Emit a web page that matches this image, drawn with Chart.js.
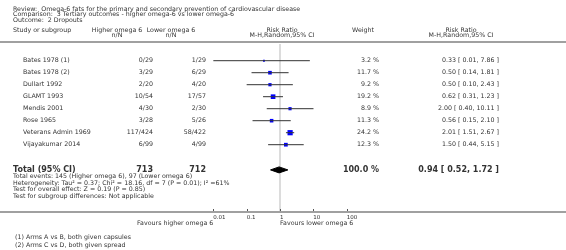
<!DOCTYPE html>
<html>
<head>
<meta charset="utf-8">
<script src="https://cdn.jsdelivr.net/npm/chart.js@4"></script>
<style>
  html, body { margin: 0; padding: 0; background: #fff; }
  #forest__wrap { position: relative; width: 566px; height: 250px; }
</style>
</head>
<body>
<div id="forest__wrap"><canvas id="forest__graph"></canvas></div>
<script>
// study data
const studies = ["Bates 1978 (1)", "Bates 1978 (2)", "Dullart 1992", "GLAMT 1993", "Mendis 2001", "Rose 1965", "Veterans Admin 1969", "Vijayakumar 2014"];
const higherEvents = [0, 3, 2, 10, 4, 3, 117, 6];
const higherTotal = [29, 29, 20, 54, 30, 28, 424, 99];
const lowerEvents = [1, 6, 4, 17, 2, 5, 58, 4];
const lowerTotal = [29, 29, 20, 57, 30, 26, 422, 99];
const riskRatio = [0.33, 0.5, 0.5, 0.62, 2.0, 0.56, 2.01, 1.5];
const ciLow = [0.01, 0.14, 0.1, 0.31, 0.4, 0.15, 1.51, 0.44];
const ciHigh = [7.86, 1.81, 2.43, 1.23, 10.11, 2.1, 2.67, 5.15];
const weights = [3.2, 11.7, 9.2, 19.2, 8.9, 11.3, 24.2, 12.3];

const totalHigher = 713;
const totalLower = 712;
const totalRR = [0.94, 0.52, 1.72]; // estimate, low, high
const totalWeight = 100.0;

const tickValues = [0.01, 0.1, 1, 10, 100];
const tickLabels = ["0.01", "0.1", "1", "10", "100"];

const titleLines = [
  "Review:  Omega-6 fats for the primary and secondary prevention of cardiovascular disease",
  "Comparison:  3 Tertiary outcomes - higher omega-6 vs lower omega-6",
  "Outcome:  2 Dropouts",
];
const footerLines = [
  "Total events: 145 (Higher omega 6), 97 (Lower omega 6)",
  "Heterogeneity: Tau\u00b2 = 0.37; Chi\u00b2 = 18.16, df = 7 (P = 0.01); I\u00b2 =61%",
  "Test for overall effect: Z = 0.19 (P = 0.85)",
  "Test for subgroup differences: Not applicable",
];
const footnotes = ["(1) Arms A vs B, both given capsules", "(2) Arms C vs D, both given spread"];

const totalRow = 9.1; // row slot of the pooled estimate
const FONT = "'DejaVu Sans', Verdana, sans-serif";
const TEXT = "#333";

const fmt = (v) => v.toFixed(2);
const ciText = (e, l, h) => fmt(e) + " [ " + fmt(l) + ", " + fmt(h) + " ]";

const tablePlugin = {
  id: "tablePlugin",
  beforeDatasetsDraw(chart) {
    const { ctx } = chart;
    const x = chart.scales.x;
    const bottom = chart.chartArea.bottom;
    ctx.save();
    // line of no effect
    ctx.strokeStyle = "#dcdcdc";
    ctx.lineWidth = 2;
    ctx.beginPath();
    ctx.moveTo(x.getPixelForValue(1), 44);
    ctx.lineTo(x.getPixelForValue(1), bottom);
    ctx.stroke();
    // header rule and axis rule
    ctx.strokeStyle = "#a0a0a0";
    ctx.lineWidth = 2;
    ctx.beginPath();
    ctx.moveTo(0, 42);
    ctx.lineTo(566, 42);
    ctx.moveTo(0, bottom);
    ctx.lineTo(566, bottom);
    ctx.stroke();
    // tick marks
    ctx.strokeStyle = "#555";
    ctx.lineWidth = 1;
    ctx.beginPath();
    tickValues.forEach((t) => {
      const px = Math.round(x.getPixelForValue(t)) + 0.5;
      ctx.moveTo(px, bottom - 3);
      ctx.lineTo(px, bottom - 1);
    });
    ctx.stroke();
    ctx.restore();
  },
  afterDraw(chart) {
    const { ctx } = chart;
    const x = chart.scales.x;
    const y = chart.scales.y;
    const bottom = chart.chartArea.bottom;
    const put = (s, px, py, align, bold, size) => {
      ctx.font = (bold ? "bold " : "") + (size || 6.3) + "px " + FONT;
      ctx.textAlign = align || "left";
      ctx.fillText(s, px, py);
    };
    ctx.save();
    ctx.fillStyle = TEXT;
    ctx.textBaseline = "middle";

    titleLines.forEach((s, i) => put(s, 13, 9 + i * 5.5));

    put("Study or subgroup", 13, 30);
    put("Higher omega 6", 117, 30, "center");
    put("n/N", 117, 35.5, "center");
    put("Lower omega 6", 171, 30, "center");
    put("n/N", 171, 35.5, "center");
    put("Risk Ratio", 282, 30, "center");
    put("M-H,Random,95% CI", 282, 35.5, "center");
    put("Weight", 363, 30, "center");
    put("Risk Ratio", 461, 30, "center");
    put("M-H,Random,95% CI", 461, 35.5, "center");

    studies.forEach((name, i) => {
      const py = y.getPixelForValue(i);
      put(name, 23, py);
      put(higherEvents[i] + "/" + higherTotal[i], 153, py, "right");
      put(lowerEvents[i] + "/" + lowerTotal[i], 206, py, "right");
      put(weights[i].toFixed(1) + " %", 379, py, "right");
      put(ciText(riskRatio[i], ciLow[i], ciHigh[i]), 499, py, "right");
    });

    const ty = y.getPixelForValue(totalRow);
    put("Total (95% CI)", 13, ty, "left", true, 8);
    put(String(totalHigher), 153, ty, "right", true, 8);
    put(String(totalLower), 206, ty, "right", true, 8);
    put(totalWeight.toFixed(1) + " %", 379, ty, "right", true, 8);
    put(ciText(totalRR[0], totalRR[1], totalRR[2]), 499, ty, "right", true, 8);

    footerLines.forEach((s, i) => put(s, 13, ty + 6.5 + i * 6.5));

    tickValues.forEach((t, i) => put(tickLabels[i], x.getPixelForValue(t), bottom + 6, "left", false, 5.5));
    put("Favours higher omega 6", x.getPixelForValue(0.01), bottom + 11, "right");
    put("Favours lower omega 6", x.getPixelForValue(1), bottom + 11, "left");

    footnotes.forEach((s, i) => put(s, 15, bottom + 25 + i * 8.5));
    ctx.restore();
  },
};

const forestGraph = () => {
  let ctx = document.getElementById("forest__graph").getContext("2d");

  let ciSets = studies.map((s, i) => ({
    type: "scatter",
    label: s,
    data: [
      { x: ciLow[i], y: i },
      { x: ciHigh[i], y: i },
    ],
    showLine: true,
    borderColor: "#333",
    borderWidth: 1,
    pointRadius: 0,
    clip: false,
  }));

  let boxes = {
    type: "scatter",
    label: "Risk Ratio",
    data: riskRatio.map((v, i) => ({ x: v, y: i })),
    pointStyle: "rect",
    pointRadius: weights.map((w) => Math.sqrt(w) * 0.75),
    backgroundColor: "#0000ff",
    borderColor: "#0000cc",
    borderWidth: 0,
    clip: false,
  };

  const half = 0.25;
  let diamond = {
    type: "scatter",
    label: "Total",
    data: [
      { x: totalRR[1], y: totalRow },
      { x: totalRR[0], y: totalRow - half },
      { x: totalRR[2], y: totalRow },
      { x: totalRR[0], y: totalRow + half },
      { x: totalRR[1], y: totalRow },
    ],
    showLine: true,
    fill: "shape",
    backgroundColor: "#000",
    borderColor: "#000",
    borderWidth: 1,
    pointRadius: 0,
    clip: false,
  };

  let myChart = new Chart(ctx, {
    type: "scatter",
    data: { datasets: [...ciSets, boxes, diamond] },
    options: {
      responsive: true,
      maintainAspectRatio: false,
      animation: false,
      layout: { padding: { left: 213.33, right: 219.33, top: 48, bottom: 38 } },
      plugins: { legend: { display: false }, tooltip: { enabled: false } },
      scales: {
        x: { type: "logarithmic", min: 0.01, max: 100, display: false },
        y: { type: "linear", min: -1.058, max: 12.608, reverse: true, display: false },
      },
    },
    plugins: [tablePlugin],
  });
};

forestGraph();
</script>
</body>
</html>
